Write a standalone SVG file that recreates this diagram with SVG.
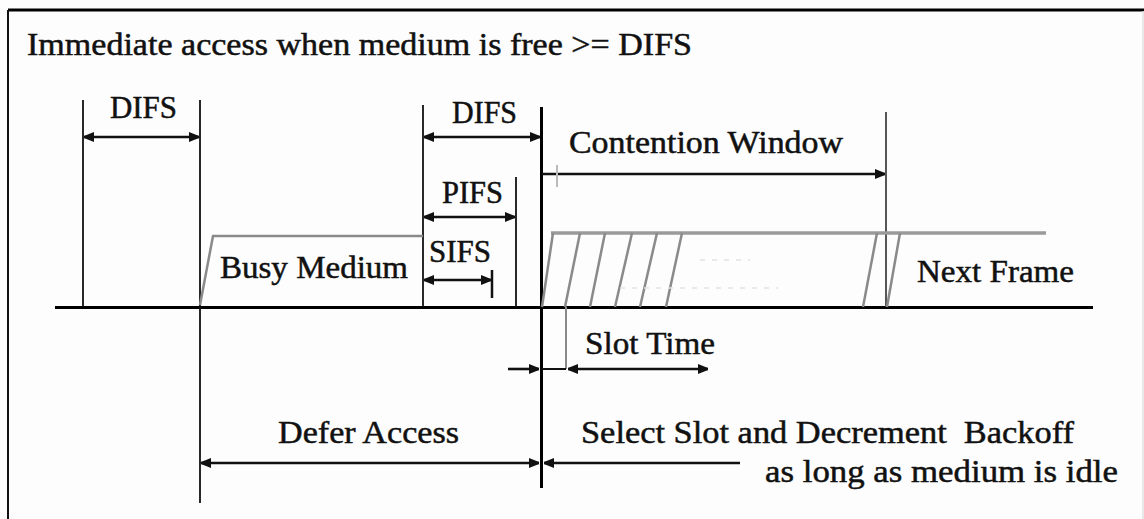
<svg xmlns="http://www.w3.org/2000/svg" width="1144" height="519" viewBox="0 0 1144 519">
<style>
  text { font-family: "Liberation Serif", "Times New Roman", serif; font-size: 31px; fill: #111; stroke: #111; stroke-width: 0.5; white-space: pre; }
  .thin { stroke: #111; stroke-width: 1.8; fill: none; }
  .thick { stroke: #000; stroke-width: 3; fill: none; }
  .gray { stroke: #8a8a8a; stroke-width: 2.5; fill: none; }
  .arr { stroke: #111; stroke-width: 2.6; fill: none; }
  .faint { stroke: #e2e2e2; stroke-width: 1.5; stroke-dasharray: 5 7; fill: none; }
</style>
<defs>
  <marker id="ah" viewBox="0 0 10 10" refX="10" refY="5" markerWidth="10" markerHeight="12" markerUnits="userSpaceOnUse" orient="auto-start-reverse">
    <path d="M0,0 L10,4 L10,6 L0,10 z" fill="#111"/>
  </marker>
</defs>
<rect x="0" y="0" width="1144" height="519" fill="#fdfdfd"/>
<g id="frame">
  <line x1="8" y1="10" x2="1144" y2="10" stroke="#000" stroke-width="3"/>
  <line x1="8" y1="10" x2="8" y2="519" stroke="#111" stroke-width="2"/>
  <line x1="1143" y1="11" x2="1143" y2="519" stroke="#e0e0e0" stroke-width="1.5"/>
</g>
<g id="title"><text x="27" y="55" textLength="665" lengthAdjust="spacingAndGlyphs">Immediate access when medium is free &gt;= DIFS</text></g>
<g id="timeline">
  <line class="thick" x1="55" y1="307.5" x2="1093" y2="307.5"/>
  <line class="thin" x1="83" y1="100" x2="83" y2="307"/>
  <line class="thin" x1="200" y1="100" x2="200" y2="503"/>
  <line class="thin" x1="423" y1="105" x2="423" y2="307"/>
  <line class="thin" x1="516" y1="177" x2="516" y2="307"/>
  <line class="thick" x1="541.5" y1="107" x2="541.5" y2="488"/>
  <line stroke="#444" stroke-width="1.8" x1="886" y1="112" x2="886" y2="307"/>
  <line stroke="#111" stroke-width="2.5" x1="492" y1="270" x2="492" y2="298"/>
</g>
<g id="busy-medium">
  <polyline class="gray" points="200,305 213,236 423,236"/>
  <text x="220" y="278" textLength="188" lengthAdjust="spacingAndGlyphs">Busy Medium</text>
</g>
<g id="contention-slots">
  <line stroke="#9a9a9a" stroke-width="3.5" x1="551" y1="233" x2="1046" y2="233"/>
  <line class="gray" x1="542" y1="307" x2="553" y2="233"/>
  <line class="gray" x1="565" y1="307" x2="580" y2="233"/>
  <line class="gray" x1="590" y1="307" x2="605" y2="233"/>
  <line class="gray" x1="615" y1="307" x2="632" y2="233"/>
  <line class="gray" x1="640" y1="307" x2="657" y2="233"/>
  <line class="gray" x1="666" y1="307" x2="682" y2="233"/>
  <line class="gray" x1="863" y1="307" x2="877" y2="233"/>
  <line class="gray" x1="887" y1="307" x2="900" y2="233"/>
  <line class="faint" x1="700" y1="260" x2="750" y2="260"/>
  <line class="faint" x1="620" y1="288" x2="778" y2="288"/>
  <line stroke="#8a8a8a" stroke-width="2" x1="566" y1="307" x2="566" y2="369"/>
</g>
<g id="next-frame"><text x="917" y="282" textLength="157" lengthAdjust="spacingAndGlyphs">Next Frame</text></g>
<g id="labels">
  <text x="110" y="118" textLength="67" lengthAdjust="spacingAndGlyphs">DIFS</text>
  <text x="452" y="123" textLength="65" lengthAdjust="spacingAndGlyphs">DIFS</text>
  <text x="442" y="203" textLength="61" lengthAdjust="spacingAndGlyphs">PIFS</text>
  <text x="429" y="262" textLength="62" lengthAdjust="spacingAndGlyphs">SIFS</text>
  <text x="569" y="153" textLength="274" lengthAdjust="spacingAndGlyphs">Contention Window</text>
  <text x="585" y="354" textLength="130" lengthAdjust="spacingAndGlyphs">Slot Time</text>
  <text x="278" y="443" textLength="181" lengthAdjust="spacingAndGlyphs">Defer Access</text>
  <text x="581" y="443" textLength="493" lengthAdjust="spacingAndGlyphs">Select Slot and Decrement  Backoff</text>
  <text x="765" y="482" textLength="353" lengthAdjust="spacingAndGlyphs">as long as medium is idle</text>
</g>
<g id="connectors">
  <line class="arr" x1="84" y1="137" x2="199" y2="137" marker-start="url(#ah)" marker-end="url(#ah)"/>
  <line class="arr" x1="424" y1="137" x2="540" y2="137" marker-start="url(#ah)" marker-end="url(#ah)"/>
  <line class="arr" x1="424" y1="217" x2="515" y2="217" marker-start="url(#ah)" marker-end="url(#ah)"/>
  <line class="arr" x1="424" y1="280" x2="491" y2="280" marker-start="url(#ah)" marker-end="url(#ah)"/>
  <line class="arr" x1="542" y1="174" x2="885" y2="174" marker-end="url(#ah)"/>
  <line stroke="#bbb" stroke-width="2" x1="557" y1="165" x2="557" y2="187"/>
  <line class="arr" x1="508" y1="369" x2="539" y2="369" marker-end="url(#ah)"/>
  <line stroke="#111" stroke-width="2" x1="542" y1="369" x2="566" y2="369"/>
  <line class="arr" x1="568" y1="369" x2="708" y2="369" marker-start="url(#ah)" marker-end="url(#ah)"/>
  <line class="arr" x1="201" y1="463" x2="539" y2="463" marker-start="url(#ah)" marker-end="url(#ah)"/>
  <line class="arr" x1="544" y1="463" x2="740" y2="463" marker-start="url(#ah)"/>
</g>
</svg>
